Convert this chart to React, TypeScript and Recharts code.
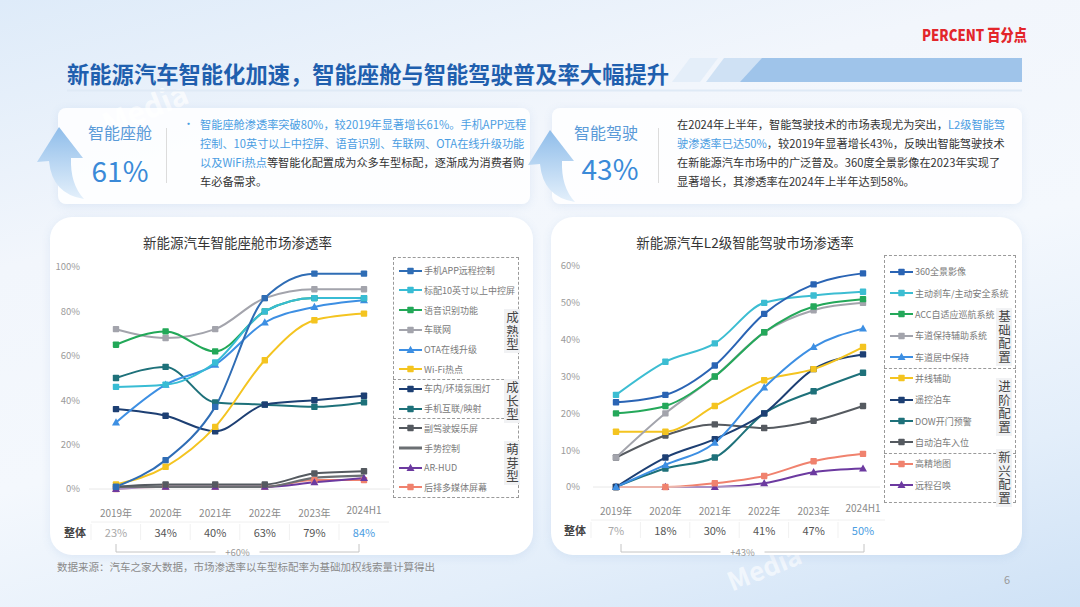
import React from 'react';
import { LineChart, Line, XAxis, YAxis } from 'recharts';

const years = ['2019年', '2020年', '2021年', '2022年', '2023年', '2024H1'];

// 智能座舱 渗透率 (%)
const appControl = [1, 13, 37, 86, 97, 97];
const screen10 = [46, 47, 57, 80, 86, 86];
const voice = [65, 71, 62, 80, 86, 86];
const connected = [72, 68, 72, 86, 90, 90];
const ota = [30, 47, 56, 75, 82, 85];
const wifi = [2, 10, 28, 58, 76, 79];
const ambient = [36, 33, 26, 38, 40, 42];
const mirror = [50, 55, 39, 38, 37, 39];
const passenger = [1, 2, 2, 2, 7, 8];
const gesture = [1, 1, 1, 1, 5, 6];
const arHud = [0, 1, 1, 1, 3, 5];
const rearScreen = [0, 1, 1, 1, 4, 4];
const cabinOverall = ['23%', '34%', '40%', '63%', '79%', '84%'];
const cabinTicks = [0, 20, 40, 60, 80, 100];

// L2 智能驾驶 渗透率 (%)
const surround360 = [23, 25, 33, 47, 55, 58];
const aeb = [25, 34, 39, 50, 52, 53];
const acc = [20, 22, 30, 42, 49, 51];
const laneKeep = [8, 20, 30, 42, 48, 50];
const laneCenter = [0, 6, 12, 27, 38, 43];
const mergeAssist = [15, 15, 22, 29, 32, 38];
const remotePark = [0, 8, 13, 20, 32, 36];
const dow = [0, 5, 8, 20, 26, 31];
const autoPark = [8, 14, 17, 16, 18, 22];
const hdMap = [0, 0, 1, 3, 7, 9];
const summon = [0, 0, 0, 1, 4, 5];
const driveOverall = ['7%', '18%', '30%', '41%', '47%', '50%'];
const driveTicks = [0, 10, 20, 30, 40, 50, 60];

const FONT = '"Noto Sans CJK SC", "Noto Sans", sans-serif';
const BLUE_TXT = '#4a9de2';

type Series = { key: string; name: string; color: string; shape: string; values: number[] };

const cabinSeries: Series[] = [
  { key: 'app', name: '手机APP远程控制', color: '#2f6db5', shape: 'square', values: appControl },
  { key: 'screen', name: '标配10英寸以上中控屏', color: '#38bcd4', shape: 'square', values: screen10 },
  { key: 'voice', name: '语音识别功能', color: '#22a858', shape: 'square', values: voice },
  { key: 'net', name: '车联网', color: '#a3a4ac', shape: 'square', values: connected },
  { key: 'ota', name: 'OTA在线升级', color: '#3d8fe3', shape: 'triangle', values: ota },
  { key: 'wifi', name: 'Wi-Fi热点', color: '#f4c420', shape: 'square', values: wifi },
  { key: 'amb', name: '车内/环境氛围灯', color: '#1d3f73', shape: 'square', values: ambient },
  { key: 'mir', name: '手机互联/映射', color: '#1e717a', shape: 'square', values: mirror },
  { key: 'pas', name: '副驾驶娱乐屏', color: '#555a60', shape: 'square', values: passenger },
  { key: 'ges', name: '手势控制', color: '#6b6f73', shape: 'none', values: gesture },
  { key: 'hud', name: 'AR-HUD', color: '#6c3aa0', shape: 'triangle', values: arHud },
  { key: 'rear', name: '后排多媒体屏幕', color: '#f0826e', shape: 'square', values: rearScreen },
];
const cabinGroups = [
  { label: '成熟型', count: 6, shift: 13 },
  { label: '成长型', count: 2, shift: 2 },
  { label: '萌芽型', count: 4, shift: 5 },
];

const driveSeries: Series[] = [
  { key: 's360', name: '360全景影像', color: '#2a64b4', shape: 'square', values: surround360 },
  { key: 'aeb', name: '主动刹车/主动安全系统', color: '#3cbdd2', shape: 'square', values: aeb },
  { key: 'acc', name: 'ACC自适应巡航系统', color: '#24a85a', shape: 'square', values: acc },
  { key: 'lka', name: '车道保持辅助系统', color: '#a3a4ac', shape: 'square', values: laneKeep },
  { key: 'lcc', name: '车道居中保持', color: '#3d8fe3', shape: 'triangle', values: laneCenter },
  { key: 'bsd', name: '并线辅助', color: '#f4c420', shape: 'square', values: mergeAssist },
  { key: 'rpa', name: '遥控泊车', color: '#1d3f73', shape: 'square', values: remotePark },
  { key: 'dow', name: 'DOW开门预警', color: '#1e717a', shape: 'square', values: dow },
  { key: 'apa', name: '自动泊车入位', color: '#555a60', shape: 'square', values: autoPark },
  { key: 'hd', name: '高精地图', color: '#f0826e', shape: 'square', values: hdMap },
  { key: 'sum', name: '远程召唤', color: '#6c3aa0', shape: 'triangle', values: summon },
];
const driveGroups = [
  { label: '基础配置', count: 5, shift: 26 },
  { label: '进阶配置', count: 4, shift: -3 },
  { label: '新兴配置', count: 2, shift: 0 },
];

function buildRows(series: Series[]) {
  return years.map((year, i) => {
    const row: any = { year };
    series.forEach(s => { row[s.key] = s.values[i]; });
    return row;
  });
}

function Mark({ cx, cy, shape, color }: any) {
  if (cx == null || cy == null || shape === 'none') return null;
  if (shape === 'triangle') {
    return <polygon points={`${cx},${cy - 4.2} ${cx - 4},${cy + 3} ${cx + 4},${cy + 3}`} fill={color} />;
  }
  return <rect x={cx - 3.2} y={cy - 3.2} width={6.4} height={6.4} rx={0.8} fill={color} />;
}

function YearTick({ x, y, payload, overall }: any) {
  const i = years.indexOf(payload.value);
  const last = i === years.length - 1;
  return (
    <g style={{ fontFamily: FONT }}>
      <text x={x} y={y + (last ? 20 : 23)} textAnchor="middle" dominantBaseline="central" fontSize={10} fill="#8a8a8a">
        {payload.value}
      </text>
      {i === 0 && (
        <text x={x - 41} y={y + 43} textAnchor="middle" dominantBaseline="central" fontSize={11} fontWeight={700} fill="#444">
          整体
        </text>
      )}
      <line x1={x - 25} x2={x + 25} y1={y + 33} y2={y + 33} stroke="#f0f0f0" />
      <line x1={x - 25} x2={x - 25} y1={y + 35} y2={y + 51} stroke="#f1f1f1" />
      <text
        x={x}
        y={y + 43}
        textAnchor="middle"
        dominantBaseline="central"
        fontSize={11}
        fill={last ? BLUE_TXT : i === 0 ? '#a9a9a9' : '#555'}
      >
        {overall[i]}
      </text>
    </g>
  );
}

function TrendChart({ series, overall, ticks, max, left, width, height, yWidth, marginTop, padL, padR, tickGap }: any) {
  const rows = buildRows(series);
  return (
    <div style={{ position: 'absolute', left, top: 255 }}>
      <LineChart width={width} height={height} data={rows} margin={{ top: marginTop, right: 5, left: 0, bottom: 0 }}>
        <XAxis
          dataKey="year"
          height={60}
          padding={{ left: padL, right: padR }}
          axisLine={{ stroke: '#e8e8e8' }}
          tickLine={false}
          tickSize={0}
          tickMargin={0}
          interval={0}
          tick={(p: any) => <YearTick {...p} overall={overall} />}
        />
        <YAxis
          width={yWidth}
          domain={[0, max]}
          ticks={ticks}
          axisLine={false}
          tickLine={false}
          tickSize={0}
          tickMargin={tickGap}
          tickFormatter={(v: number) => `${v}%`}
          tick={{ fontSize: 9.5, fill: '#9b9b9b', fontFamily: FONT }}
        />
        {[...series].reverse().map(s => (
          <Line
            key={s.key}
            dataKey={s.key}
            type="monotone"
            stroke={s.color}
            strokeWidth={s.shape === 'none' ? 2.2 : 2}
            isAnimationActive={false}
            activeDot={false}
            dot={(p: any) => <Mark key={`${s.key}-${p.index}`} cx={p.cx} cy={p.cy} shape={s.shape} color={s.color} />}
          />
        ))}
      </LineChart>
    </div>
  );
}

function LegendBox({ series, groups, left, top, width, first, step, bottom, labelX }: any) {
  const items: any[] = [];
  const seps: number[] = [];
  const labels: any[] = [];
  let idx = 0;
  let start = top;
  groups.forEach((g: any, gi: number) => {
    for (let k = 0; k < g.count; k++) {
      items.push({ s: series[idx], y: top + first + idx * step });
      idx++;
    }
    const end = gi === groups.length - 1 ? bottom : top + first + (idx - 0.5) * step;
    if (gi < groups.length - 1) seps.push(end);
    labels.push({ text: g.label, mid: (start + end) / 2 + g.shift });
    start = end;
  });
  return (
    <div style={{ position: 'absolute', left: 0, top: 0, fontFamily: FONT }}>
      <div
        style={{
          position: 'absolute', left, top, width, height: bottom - top,
          border: '1.2px dashed #9a9a9a', boxSizing: 'border-box',
        }}
      />
      {seps.map((y, i) => (
        <div key={i} style={{ position: 'absolute', left, top: y, width, borderTop: '1.2px dashed #9a9a9a' }} />
      ))}
      {labels.map((l, i) => {
        const h = l.text.length * 13.5 + 4;
        return (
          <div
            key={i}
            style={{
              position: 'absolute', left: labelX - 8, top: l.mid - h / 2, width: 16, height: h,
              background: '#f1f2f4', color: '#444', fontSize: 12.5, lineHeight: '16px',
              writingMode: 'vertical-rl', letterSpacing: 1, boxSizing: 'border-box',
              display: 'flex', alignItems: 'center', justifyContent: 'center',
            }}
          >
            {l.text}
          </div>
        );
      })}
      {items.map(({ s, y }) => (
        <div key={s.key} style={{ position: 'absolute', left: left + 6, top: y - 7, height: 14, display: 'flex', alignItems: 'center' }}>
          <svg width={23} height={10}>
            <line x1={0} x2={23} y1={5} y2={5} stroke={s.color} strokeWidth={s.shape === 'none' ? 3 : 2} />
            <Mark cx={11.5} cy={5} shape={s.shape} color={s.color} />
          </svg>
          <span style={{ fontSize: 9, color: '#7a7a7a', marginLeft: 2, whiteSpace: 'nowrap' }}>{s.name}</span>
        </div>
      ))}
    </div>
  );
}

function Bracket({ x1, x2, y, label }: any) {
  const mid = (x1 + x2) / 2;
  return (
    <svg width={1080} height={607} style={{ position: 'absolute', left: 0, top: 0 }}>
      <path d={`M${x1} ${y - 8} L${x1} ${y} L${mid - 22} ${y}`} stroke="#c4c4c4" fill="none" />
      <path d={`M${mid + 22} ${y} L${x2} ${y} L${x2} ${y - 8}`} stroke="#c4c4c4" fill="none" />
      <text x={mid} y={y} textAnchor="middle" dominantBaseline="central" fontSize={9.5} fill="#999" style={{ fontFamily: FONT }}>
        {label}
      </text>
    </svg>
  );
}

function Arrow({ dx, dy }: any) {
  return (
    <svg width={1080} height={607} style={{ position: 'absolute', left: 0, top: 0 }}>
      <defs>
        <linearGradient id={`ag${dx}`} x1="0" y1="0" x2="0" y2="1">
          <stop offset="0%" stopColor="#8fbdea" />
          <stop offset="100%" stopColor="#e4f0fb" />
        </linearGradient>
      </defs>
      <path
        transform={`translate(${dx},${dy})`}
        d="M37 162 L59 127 L83 158 L71 158 Q70 184 84 199 Q52 194 49 161 Z"
        fill={`url(#ag${dx})`}
      />
    </svg>
  );
}

const card: any = {
  position: 'absolute', background: 'rgba(255,255,255,0.85)', borderRadius: 8,
  boxShadow: '0 2px 10px rgba(90,140,200,0.12)',
};

export default function App() {
  return (
    <div
      style={{
        position: 'relative', width: 1080, height: 607, overflow: 'hidden', fontFamily: FONT,
        background: 'linear-gradient(165deg, #deebf9 0%, #f2f6fc 30%, #f4f8fd 55%, #e3eefa 80%, #cfe2f6 100%)',
      }}
    >
      <style>{'body{margin:0}'}</style>

      {/* watermarks */}
      <div style={{ position: 'absolute', left: 100, top: 85, fontSize: 30, color: 'rgba(255,255,255,0.7)', transform: 'rotate(-22deg)', fontWeight: 700 }}>Media</div>
      <div style={{ position: 'absolute', left: 725, top: 548, fontSize: 26, color: 'rgba(255,255,255,0.6)', transform: 'rotate(-22deg)', fontWeight: 700 }}>Media</div>

      {/* logo */}
      <div
        style={{
          position: 'absolute', left: 922, top: 23, fontSize: 15.5, fontWeight: 900, color: '#e3262b',
          whiteSpace: 'nowrap', transform: 'scaleX(0.85)', transformOrigin: 'left center',
        }}
      >
        PERCENT 百分点
      </div>

      {/* title */}
      <svg width={1080} height={100} style={{ position: 'absolute', left: 0, top: 0 }}>
        <polygon points="690,58 718,58 700,82 672,82" fill="#e4eef9" />
        <polygon points="724,58 772,58 754,82 706,82" fill="#cfe1f4" />
        <polygon points="762,58 1022,58 1022,82 740,82" fill="#9fc4ea" />
        <line x1={67} x2={1022} y1={90.5} y2={90.5} stroke="#dfeaf6" strokeWidth={2} />
      </svg>
      <div style={{ position: 'absolute', left: 67, top: 57, fontSize: 22.3, fontWeight: 700, color: '#1f5fae', whiteSpace: 'nowrap', lineHeight: '32px' }}>
        新能源汽车智能化加速，智能座舱与智能驾驶普及率大幅提升
      </div>

      {/* info cards */}
      <div style={{ ...card, left: 58, top: 108, width: 472, height: 96 }} />
      <div style={{ ...card, left: 552, top: 108, width: 470, height: 96 }} />
      <Arrow dx={0} dy={0} />
      <Arrow dx={491} dy={3} />

      <div style={{ position: 'absolute', left: 70, top: 120, width: 100, textAlign: 'center', fontSize: 16, color: '#5a9ad8' }}>智能座舱</div>
      <div style={{ position: 'absolute', left: 70, top: 150, width: 100, textAlign: 'center', fontSize: 28, color: '#3a8ad8', lineHeight: '40px' }}>61%</div>
      <div style={{ position: 'absolute', left: 166, top: 128, width: 1, height: 55, background: '#dcdcdc' }} />
      <div style={{ position: 'absolute', left: 183, top: 115, fontSize: 11, color: BLUE_TXT }}>•</div>
      <div style={{ position: 'absolute', left: 200, top: 115, fontSize: 11.2, lineHeight: '19px', whiteSpace: 'nowrap', color: '#333' }}>
        <div style={{ color: BLUE_TXT }}>智能座舱渗透率突破80%，较2019年显著增长61%。手机APP远程</div>
        <div style={{ color: BLUE_TXT }}>控制、10英寸以上中控屏、语音识别、车联网、OTA在线升级功能</div>
        <div><span style={{ color: BLUE_TXT }}>以及WiFi热点</span>等智能化配置成为众多车型标配，逐渐成为消费者购</div>
        <div>车必备需求。</div>
      </div>

      <div style={{ position: 'absolute', left: 556, top: 120, width: 100, textAlign: 'center', fontSize: 16, color: '#5a9ad8' }}>智能驾驶</div>
      <div style={{ position: 'absolute', left: 560, top: 148, width: 100, textAlign: 'center', fontSize: 28, color: '#3a8ad8', lineHeight: '40px' }}>43%</div>
      <div style={{ position: 'absolute', left: 658, top: 128, width: 1, height: 55, background: '#dcdcdc' }} />
      <div style={{ position: 'absolute', left: 677, top: 115, fontSize: 11.2, lineHeight: '19px', whiteSpace: 'nowrap', color: '#333' }}>
        <div>在2024年上半年，智能驾驶技术的市场表现尤为突出，<span style={{ color: BLUE_TXT }}>L2级智能驾</span></div>
        <div><span style={{ color: BLUE_TXT }}>驶渗透率已达50%</span>，较2019年显著增长43%，反映出智能驾驶技术</div>
        <div>在新能源汽车市场中的广泛普及。360度全景影像在2023年实现了</div>
        <div>显著增长，其渗透率在2024年上半年达到58%。</div>
      </div>

      {/* chart cards */}
      <div style={{ ...card, left: 50, top: 217, width: 483, height: 338, borderRadius: 22, background: '#fff' }} />
      <div style={{ ...card, left: 551, top: 217, width: 471, height: 338, borderRadius: 22, background: '#fff' }} />

      <div style={{ position: 'absolute', left: 50, top: 232, width: 375, textAlign: 'center', fontSize: 13.5, color: '#333' }}>
        新能源汽车智能座舱市场渗透率
      </div>
      <div style={{ position: 'absolute', left: 551, top: 232, width: 388, textAlign: 'center', fontSize: 13.5, color: '#333' }}>
        新能源汽车L2级智能驾驶市场渗透率
      </div>

      <TrendChart
        series={cabinSeries} overall={cabinOverall} ticks={cabinTicks} max={100}
        left={40} width={355} height={294} yWidth={49} marginTop={12} padL={27} padR={26} tickGap={9}
      />
      <TrendChart
        series={driveSeries} overall={driveOverall} ticks={driveTicks} max={60}
        left={550} width={335} height={292} yWidth={43} marginTop={11} padL={23} padR={17} tickGap={13}
      />

      <LegendBox series={cabinSeries} groups={cabinGroups} left={393} top={257} width={126} first={13.7} step={19.7} bottom={498} labelX={512} />
      <LegendBox series={driveSeries} groups={driveGroups} left={884} top={255} width={132} first={16.7} step={21.33} bottom={503} labelX={1004} />

      <Bracket x1={116} x2={359} y={552} label="+60%" />
      <Bracket x1={621} x2={864} y={552} label="+43%" />

      <div style={{ position: 'absolute', left: 57, top: 559, fontSize: 10.5, color: '#8a8a8a', whiteSpace: 'nowrap' }}>
        数据来源：汽车之家大数据，市场渗透率以车型标配率为基础加权线索量计算得出
      </div>
      <div style={{ position: 'absolute', left: 1004, top: 571, fontSize: 11, color: '#999' }}>6</div>
    </div>
  );
}
